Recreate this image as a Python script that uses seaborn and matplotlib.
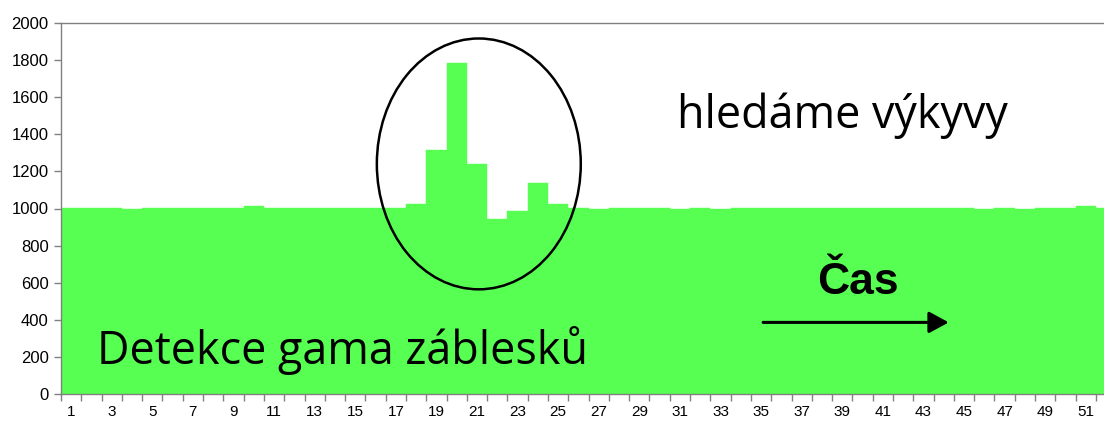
import numpy as np
import pandas as pd
import matplotlib
matplotlib.use("Agg")
import matplotlib.pyplot as plt
from matplotlib.patches import Ellipse
import seaborn as sns

# time bins 1..52 and counts per bin
bins = list(range(1, 53))
counts = [1002, 1002, 1002, 996, 1002, 1002, 1002, 1002, 1002, 1012,
          1002, 1002, 1002, 1002, 1002, 1002, 1002, 1022, 1313, 1782,
          1237, 944, 987, 1138, 1022, 1004, 996, 1002, 1002, 1002,
          997, 1002, 997, 1002, 1002, 1002, 1002, 1002, 1002, 1002,
          1002, 1002, 1002, 1002, 1002, 996, 1002, 996, 1002, 1002,
          1012, 1002]
tick_labels = [str(b) for b in bins if b % 2 == 1]

GREEN = "#57FF52"

df = pd.DataFrame({"bin": bins, "count": counts})

sns.set_style("white", {"xtick.bottom": True, "ytick.left": True})
plt.rcParams["font.family"] = ["Liberation Sans", "DejaVu Sans"]
plt.rcParams["text.color"] = "black"
plt.rcParams["xtick.labelcolor"] = "black"
plt.rcParams["ytick.labelcolor"] = "black"

fig = plt.figure(figsize=(11.04, 4.25), dpi=100)
ax = fig.add_axes([61 / 1104, 30.7 / 425, 1043 / 1104, 371.6 / 425])

sns.barplot(data=df, x="bin", y="count", color=GREEN, width=1.0,
            errorbar=None, saturation=1, edgecolor=GREEN, linewidth=0.3, ax=ax)

ax.set_xlim(-0.5, 50.9)
ax.set_ylim(0, 2000)
ax.set_yticks(np.arange(0, 2001, 200))
ax.tick_params(axis="y", direction="out", length=5, width=1, color="#808080",
               labelsize=12, pad=4)

# tick marks between bins, labels on odd bins
ax.set_xticks(np.arange(-0.5, 51, 1.0))
ax.set_xticklabels([])
ax.tick_params(axis="x", which="major", direction="out", length=5, width=1,
               color="#808080")
ax.set_xticks([i for i, b in enumerate(bins) if b % 2 == 1], minor=True)
ax.set_xticklabels(tick_labels, minor=True)
ax.tick_params(axis="x", which="minor", bottom=True, length=0, labelsize=11, pad=8)
ax.set_xlabel("")
ax.set_ylabel("")

for side in ["left", "bottom", "top"]:
    ax.spines[side].set_visible(True)
    ax.spines[side].set_color("#808080")
    ax.spines[side].set_linewidth(1)
ax.spines["right"].set_visible(False)

# ellipse around the burst
ax.add_patch(Ellipse((20.09, 1240), 10.05, 1350, fill=False, edgecolor="black",
                     linewidth=1.8, zorder=5, clip_on=False))

# annotations
ax.text(29.85, 1497, "hledáme výkyvy", fontsize=32.3,
        family=["Open Sans", "DejaVu Sans"], ha="left", va="center")
ax.text(1.25, 238, "Detekce gama záblesků", fontsize=32.3,
        family=["Open Sans", "DejaVu Sans"], ha="left", va="center")
ax.text(38.75, 600, "Čas", fontsize=32, fontweight="bold", ha="center",
        va="center")
ax.annotate("", xy=(43.25, 387), xytext=(34.1, 387),
            arrowprops=dict(arrowstyle="-|>,head_length=1.2,head_width=0.65",
                            color="black", linewidth=2.2, shrinkA=0, shrinkB=0))

fig.savefig("out.png", dpi=100)
